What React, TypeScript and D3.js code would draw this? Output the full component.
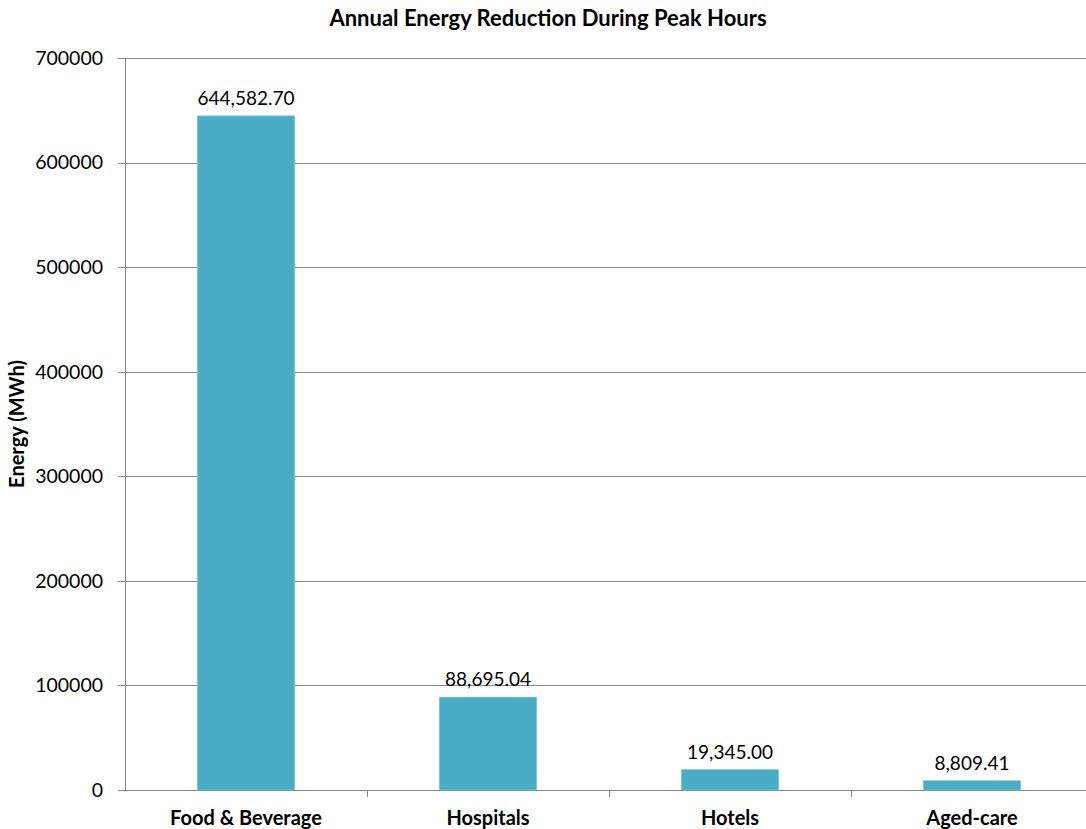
import React from "react";
import * as d3 from "d3";

const categories = ["Food & Beverage", "Hospitals", "Hotels", "Aged-care"];
const values = [644582.7, 88695.04, 19345.0, 8809.41];
const valueLabels = ["644,582.70", "88,695.04", "19,345.00", "8,809.41"];
const yTicks = [0, 100000, 200000, 300000, 400000, 500000, 600000, 700000];

const W = 1086;
const H = 829;
const FONT = "Lato, 'Open Sans', sans-serif";

export default function App() {
  const left = 125;
  const bandW = 242;
  const x = d3
    .scaleBand<string>()
    .domain(categories)
    .range([left, left + bandW * categories.length])
    .paddingInner(0.6)
    .paddingOuter(0.3);
  const y = d3.scaleLinear().domain([0, 700000]).range([790, 58]);
  const bandEdges = categories.map((_, i) => left + bandW * (i + 1));

  return (
    <svg
      width={W}
      height={H}
      style={{ position: "absolute", left: 0, top: 0, background: "#fff" }}
      fontFamily={FONT}
    >
      <text x={548} y={26} textAnchor="middle" fontWeight="bold" fontSize={22} fill="#000">
        Annual Energy Reduction During Peak Hours
      </text>
      {yTicks.map((t) => (
        <g key={t}>
          <line
            x1={118}
            x2={W}
            y1={Math.round(y(t)) + 0.5}
            y2={Math.round(y(t)) + 0.5}
            stroke={t === 0 ? "#868686" : "#8c8c8c"}
            strokeWidth={1}
          />
          <text x={103} y={y(t)} dy="0.35em" textAnchor="end" fontSize={19.5} fill="#000">
            {t}
          </text>
        </g>
      ))}
      <line x1={left + 0.5} x2={left + 0.5} y1={58} y2={790} stroke="#868686" />
      {bandEdges.map((bx, i) => (
        <line key={i} x1={bx + 0.5} x2={bx + 0.5} y1={790} y2={797} stroke="#868686" />
      ))}
      {categories.map((c, i) => (
        <g key={c}>
          <rect
            x={x(c)!}
            y={y(values[i])}
            width={x.bandwidth()}
            height={790 - y(values[i])}
            fill="#4BACC6"
            stroke="#6cc0d6"
            strokeWidth={0.8}
          />
          <text
            x={x(c)! + x.bandwidth() / 2}
            y={y(values[i]) - 11}
            textAnchor="middle"
            fontSize={19}
            fill="#000"
          >
            {valueLabels[i]}
          </text>
          <text
            x={x(c)! + x.bandwidth() / 2}
            y={825}
            textAnchor="middle"
            fontWeight="bold"
            fontSize={20}
            fill="#000"
          >
            {c}
          </text>
        </g>
      ))}
      <text
        transform="translate(24,424) rotate(-90)"
        textAnchor="middle"
        fontWeight="bold"
        fontSize={20}
        fill="#000"
      >
        Energy (MWh)
      </text>
    </svg>
  );
}
